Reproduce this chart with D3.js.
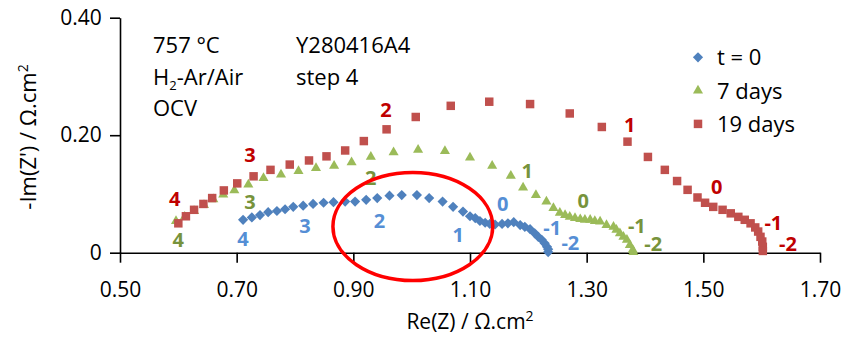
<!DOCTYPE html>
<html>
<head>
<meta charset="utf-8">
<script src="https://cdn.jsdelivr.net/npm/d3@7"></script>
<style>
  body { margin: 0; background: #fff; }
  text { font-family: "Open Sans", sans-serif; }
</style>
</head>
<body>
<svg width="846" height="337"></svg>
<script>
// Nyquist data, Re(Z) and -Im(Z) in ohm.cm2
const t0Re = [0.711, 0.726, 0.740, 0.754, 0.769, 0.783, 0.797, 0.814, 0.831, 0.849, 0.866, 0.886, 0.903, 0.922, 0.941, 0.962, 0.983, 1.009, 1.030, 1.053, 1.071, 1.088, 1.100, 1.109, 1.117, 1.126, 1.134, 1.143, 1.155, 1.165, 1.175, 1.186, 1.194, 1.203, 1.211, 1.217, 1.223, 1.228, 1.232, 1.234, 1.234]
const t0Im = [0.056, 0.060, 0.064, 0.069, 0.071, 0.074, 0.078, 0.080, 0.083, 0.085, 0.086, 0.087, 0.087, 0.090, 0.093, 0.097, 0.098, 0.098, 0.093, 0.087, 0.078, 0.070, 0.062, 0.059, 0.054, 0.051, 0.049, 0.048, 0.049, 0.050, 0.052, 0.047, 0.044, 0.040, 0.033, 0.027, 0.022, 0.016, 0.010, 0.006, 0.001]

const d7Re = [0.596, 0.611, 0.627, 0.644, 0.660, 0.677, 0.696, 0.720, 0.746, 0.776, 0.806, 0.836, 0.867, 0.897, 0.930, 0.969, 1.011, 1.057, 1.100, 1.138, 1.170, 1.191, 1.213, 1.231, 1.243, 1.254, 1.263, 1.271, 1.280, 1.289, 1.297, 1.306, 1.314, 1.323, 1.334, 1.346, 1.351, 1.357, 1.363, 1.369, 1.374, 1.379, 1.380]
const d7Im = [0.054, 0.061, 0.071, 0.081, 0.091, 0.099, 0.106, 0.116, 0.127, 0.133, 0.139, 0.144, 0.148, 0.154, 0.163, 0.171, 0.175, 0.173, 0.162, 0.148, 0.131, 0.111, 0.098, 0.087, 0.076, 0.068, 0.064, 0.061, 0.059, 0.057, 0.056, 0.056, 0.054, 0.053, 0.047, 0.044, 0.039, 0.033, 0.027, 0.022, 0.013, 0.005, 0.001]

const d19Re = [0.600, 0.613, 0.627, 0.643, 0.658, 0.678, 0.701, 0.729, 0.758, 0.791, 0.824, 0.854, 0.886, 0.918, 0.957, 1.007, 1.067, 1.133, 1.203, 1.271, 1.326, 1.370, 1.405, 1.434, 1.455, 1.473, 1.490, 1.503, 1.517, 1.533, 1.547, 1.560, 1.571, 1.581, 1.589, 1.594, 1.598, 1.601, 1.602, 1.602]
const d19Im = [0.050, 0.062, 0.073, 0.083, 0.093, 0.106, 0.118, 0.130, 0.141, 0.150, 0.157, 0.164, 0.174, 0.190, 0.210, 0.231, 0.250, 0.257, 0.253, 0.237, 0.214, 0.189, 0.163, 0.141, 0.122, 0.107, 0.094, 0.085, 0.078, 0.073, 0.067, 0.061, 0.056, 0.050, 0.043, 0.036, 0.027, 0.019, 0.010, 0.003]

// frequency decade labels (log f) placed in data units
const decades = ['4', '3', '2', '1', '0', '-1', '-2']
const t0LabRe = [0.711, 0.817, 0.945, 1.080, 1.156, 1.241, 1.272]
const t0LabIm = [0.023, 0.045, 0.054, 0.030, 0.083, 0.042, 0.017]
const d7LabRe = [0.600, 0.723, 0.930, 1.198, 1.294, 1.386, 1.414]
const d7LabIm = [0.022, 0.087, 0.128, 0.140, 0.089, 0.046, 0.015]
const d19LabRe = [0.594, 0.723, 0.956, 1.374, 1.523, 1.620, 1.645]
const d19LabIm = [0.091, 0.166, 0.244, 0.217, 0.112, 0.051, 0.015]

const xTicks = [0.5, 0.7, 0.9, 1.1, 1.3, 1.5, 1.7]
const yTicks = [0, 0.2, 0.4]
const legendNames = ['t = 0', '7 days', '19 days']
const infoLeft = ['757 °C', 'H2-Ar/Air', 'OCV']
const infoRight = ['Y280416A4', 'step 4']

// highlighted region (ellipse), data units
const ring = { re: 1.002, im: 0.0446, rRe: 0.137, rIm: 0.092 }

const svg = d3.select('svg')

const x = d3.scaleLinear().domain([0.5, 1.7]).range([120, 820])
const y = d3.scaleLinear().domain([0, 0.4]).range([252.7, 17.7])

// axes
const xAxis = svg.append('g')
    .attr('transform', 'translate(0,' + y(0) + ')')
    .call(d3.axisBottom(x).tickValues(xTicks).tickFormat(d3.format('.2f')).tickSize(10).tickSizeOuter(0))
const yAxis = svg.append('g')
    .attr('transform', 'translate(' + x(0.5) + ',0)')
    .call(d3.axisLeft(y).tickValues(yTicks).tickFormat(d => d === 0 ? '0' : d3.format('.2f')(d)).tickSize(10).tickSizeOuter(0))

svg.selectAll('.domain').attr('stroke', '#000').attr('stroke-width', 1.6)
svg.selectAll('.tick line').attr('stroke', '#000').attr('stroke-width', 1.6)
svg.selectAll('.tick text').attr('fill', '#000').style('font-size', '21px')
xAxis.selectAll('.tick text').attr('dy', '1.5em')
yAxis.selectAll('.tick text').attr('dx', '-0.25em')

// axis titles
svg.append('text')
    .attr('x', 470).attr('y', 329)
    .attr('text-anchor', 'middle')
    .style('font-size', '21px')
    .html('Re(Z) / Ω.cm<tspan dy="-8" font-size="14px">2</tspan>')

svg.append('text')
    .attr('transform', 'translate(36,137) rotate(-90)')
    .attr('text-anchor', 'middle')
    .style('font-size', '22px')
    .html('-Im(Z\') / Ω.cm<tspan dy="-8" font-size="14px">2</tspan>')

// series
const series = [
    { re: t0Re, im: t0Im, type: 'diamond', color: '#4F81BD', labRe: t0LabRe, labIm: t0LabIm, labColor: '#558ED5' },
    { re: d7Re, im: d7Im, type: 'triangle', color: '#9BBB59', labRe: d7LabRe, labIm: d7LabIm, labColor: '#77933C' },
    { re: d19Re, im: d19Im, type: 'square', color: '#C0504D', labRe: d19LabRe, labIm: d19LabIm, labColor: '#C00000' }
]

function marker(type) {
    if (type === 'diamond') return d3.symbol(d3.symbolSquare, 52)()
    if (type === 'triangle') return d3.symbol(d3.symbolTriangle, 44)()
    return d3.symbol(d3.symbolSquare, 72)()
}

series.forEach(s => {
    const pts = s.re.map((v, i) => [v, s.im[i]])
    svg.append('g')
        .selectAll('path')
        .data(pts)
        .enter()
        .append('path')
        .attr('d', marker(s.type))
        .attr('fill', s.color)
        .attr('transform', d => 'translate(' + x(d[0]) + ',' + y(d[1]) + ')' + (s.type === 'diamond' ? ' rotate(45)' : ''))
})

series.forEach(s => {
    svg.append('g')
        .selectAll('text')
        .data(decades)
        .enter()
        .append('text')
        .attr('x', (d, i) => x(s.labRe[i]))
        .attr('y', (d, i) => y(s.labIm[i]))
        .attr('text-anchor', 'middle')
        .attr('dy', '0.36em')
        .attr('fill', s.labColor)
        .style('font-size', '20px')
        .style('font-weight', 'bold')
        .text(d => d)
})

// red ring
svg.append('ellipse')
    .attr('cx', x(ring.re))
    .attr('cy', y(ring.im))
    .attr('rx', x(ring.re + ring.rRe) - x(ring.re))
    .attr('ry', y(0) - y(ring.rIm))
    .attr('fill', 'none')
    .attr('stroke', '#FF0000')
    .attr('stroke-width', 3.5)

// info text
const info = svg.append('g').style('font-size', '22px')
info.selectAll('.left')
    .data(infoLeft)
    .enter()
    .append('text')
    .attr('x', 153)
    .attr('y', (d, i) => 53 + i * 31.5)
    .html(d => d === 'H2-Ar/Air' ? 'H<tspan dy="5" font-size="13px">2</tspan><tspan dy="-5">-Ar/Air</tspan>' : d)
info.selectAll('.right')
    .data(infoRight)
    .enter()
    .append('text')
    .attr('x', 296)
    .attr('y', (d, i) => 53 + i * 31.5)
    .text(d => d)

// legend
const legend = svg.append('g')
legendNames.forEach((name, i) => {
    const s = series[i]
    const cy = 57.3 + i * 33.3
    legend.append('path')
        .attr('d', marker(s.type))
        .attr('fill', s.color)
        .attr('transform', 'translate(698,' + cy + ')' + (s.type === 'diamond' ? ' rotate(45)' : ''))
    legend.append('text')
        .attr('x', 717)
        .attr('y', cy)
        .attr('dy', '0.36em')
        .style('font-size', '22px')
        .text(name)
})
</script>
</body>
</html>
